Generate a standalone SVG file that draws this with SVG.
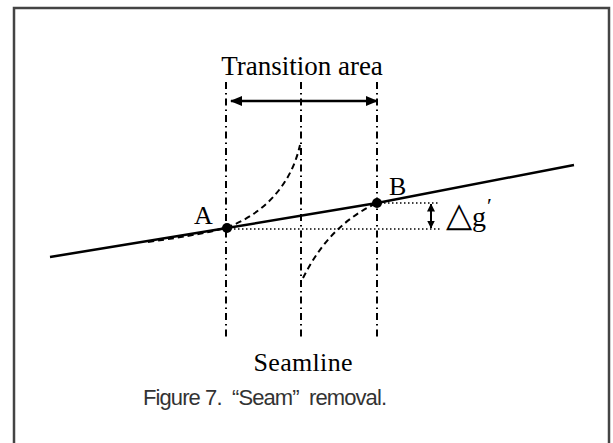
<svg xmlns="http://www.w3.org/2000/svg" width="613" height="443" viewBox="0 0 613 443">
  <style>
    .serif { font-family: "Liberation Serif", "Times New Roman", serif; fill: #000; }
    .guide { fill: none; stroke: #000; stroke-width: 2; stroke-dasharray: 7 4 1.5 4; }
    .dashed { fill: none; stroke: #000; stroke-width: 2; stroke-dasharray: 6 4; }
    .dotted { fill: none; stroke: #000; stroke-width: 1.5; stroke-dasharray: 1.5 2.5; }
    .caption { font-family: "Liberation Sans Narrow", "Liberation Sans", Arial, sans-serif; font-size: 22px; fill: #333; }
  </style>
  <defs>
    <marker id="ah" viewBox="0 0 12 10" refX="11" refY="5" markerWidth="12" markerHeight="10" markerUnits="userSpaceOnUse" orient="auto-start-reverse">
      <path d="M0,0 L12,5 L0,10 Z" fill="#000"/>
    </marker>
    <marker id="ahs" viewBox="0 0 8 8" refX="7.5" refY="4" markerWidth="8" markerHeight="8" markerUnits="userSpaceOnUse" orient="auto-start-reverse">
      <path d="M0,0 L8,4 L0,8 Z" fill="#000"/>
    </marker>
  </defs>
  <rect x="14" y="8" width="595" height="440" fill="#fff" stroke="#444" stroke-width="2.5"/>

  <g id="connectors">
    <line class="guide" x1="226" y1="82" x2="226" y2="338"/>
    <line class="guide" x1="301" y1="82" x2="301" y2="338"/>
    <line class="guide" x1="377" y1="82" x2="377" y2="338"/>
    <line x1="231" y1="101" x2="377" y2="101" stroke="#000" stroke-width="2.5" marker-start="url(#ah)" marker-end="url(#ah)"/>
    <line class="dotted" x1="380" y1="203" x2="440" y2="203"/>
    <line class="dotted" x1="230" y1="229" x2="440" y2="229"/>
    <line x1="431" y1="204" x2="431" y2="228" stroke="#000" stroke-width="2" marker-start="url(#ahs)" marker-end="url(#ahs)"/>
    <path class="dashed" d="M148,242 C190,236 212,232 228,227 C258,216 290,190 300,145"/>
    <path class="dashed" d="M303,278 C318,248 340,220 377,203"/>
    <polyline points="50,257 227,228 377,203 574,165" fill="none" stroke="#000" stroke-width="2.5"/>
  </g>

  <g id="pointA">
    <circle cx="227" cy="228" r="5" fill="#000"/>
    <text class="serif" x="194" y="224" font-size="26">A</text>
  </g>
  <g id="pointB">
    <circle cx="377" cy="203" r="5" fill="#000"/>
    <text class="serif" x="389" y="195" font-size="26">B</text>
  </g>
  <g id="label-transition">
    <text class="serif" x="302" y="75" font-size="27" text-anchor="middle">Transition area</text>
  </g>
  <g id="label-seamline">
    <text class="serif" x="303" y="371" font-size="26" text-anchor="middle" textLength="99" lengthAdjust="spacing">Seamline</text>
  </g>
  <g id="label-deltag">
    <text class="serif" x="446" y="226" font-size="28"><tspan font-size="34">△</tspan>g<tspan font-size="22" dx="1" dy="-13">′</tspan></text>
  </g>
  <g id="caption">
    <text class="caption" x="265" y="405" text-anchor="middle" textLength="244" lengthAdjust="spacing" xml:space="preserve">Figure 7.  “Seam”  removal.</text>
  </g>
</svg>
